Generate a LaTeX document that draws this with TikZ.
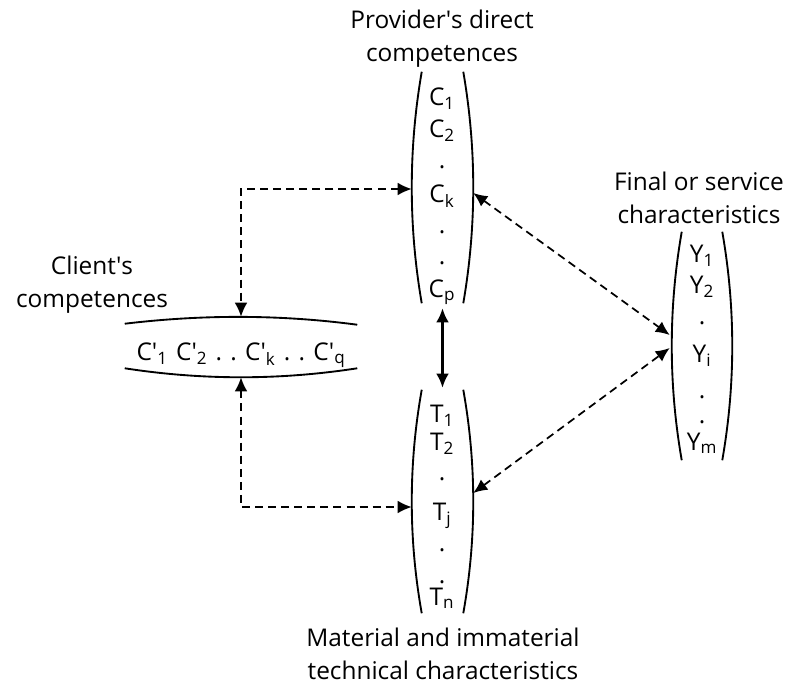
\documentclass[tikz,border=0pt]{standalone}
\usepackage{fontspec}
\setmainfont{Open Sans}
\usetikzlibrary{calc,arrows.meta}

\newcommand\q{\textquotesingle}
\newcommand\lo[1]{\textsubscript{#1}}
\newcommand\gap{\hspace{0.34em}}

% curved brackets on the left and right side of a column node
\newcommand\colbrackets[1]{%
  \draw[brk] ($(#1.north west)+(10,0)$)
    .. controls ($(#1.north west)!.333!(#1.south west)+(-3.3,0)$)
    and ($(#1.north west)!.667!(#1.south west)+(-3.3,0)$)
    .. ($(#1.south west)+(10,0)$);
  \draw[brk] ($(#1.north east)+(-10,0)$)
    .. controls ($(#1.north east)!.333!(#1.south east)+(3.3,0)$)
    and ($(#1.north east)!.667!(#1.south east)+(3.3,0)$)
    .. ($(#1.south east)+(-10,0)$);}

% curved brackets above and below a row node
\newcommand\rowbrackets[1]{%
  \draw[brk] ($(#1.north west)+(0,7)$)
    .. controls ($(#1.north west)!.333!(#1.north east)+(0,-2.3)$)
    and ($(#1.north west)!.667!(#1.north east)+(0,-2.3)$)
    .. ($(#1.north east)+(0,8)$);
  \draw[brk] ($(#1.south west)+(0,-9)$)
    .. controls ($(#1.south west)!.333!(#1.south east)+(0,3)$)
    and ($(#1.south west)!.667!(#1.south east)+(0,3)$)
    .. ($(#1.south east)+(0,-9)$);}

\begin{document}
\begin{tikzpicture}[x=0.75pt,y=-0.75pt,
  every node/.style={inner sep=0pt, font=\fontsize{18.3}{24.75}\selectfont},
  lbl/.style={align=center},
  item/.style={anchor=base},
  box/.style={draw=none, rectangle},
  brk/.style={line width=1.4pt},
  dar/.style={line width=1.3pt, dash pattern=on 6pt off 3.8pt, {Latex[length=10.5pt,width=9.5pt]}-{Latex[length=10.5pt,width=9.5pt]}},
  sar/.style={line width=1.7pt, {Latex[length=10.5pt,width=9.5pt]}-{Latex[length=10.5pt,width=9.5pt]}}]

\fill[white] (0,0) rectangle (795,685);
\useasboundingbox (0,0) rectangle (795,685);

% column and row frames
\node[box, minimum width=45.75pt, minimum height=173.25pt] (colC) at (442.5,187.5) {};
\node[box, minimum width=45.75pt, minimum height=167.25pt] (colT) at (442.5,501.5) {};
\node[box, minimum width=45pt, minimum height=171pt] (colY) at (702,346) {};
\node[box, minimum width=174pt, minimum height=45pt] (rowCp) at (241,347) {};

\colbrackets{colC}
\colbrackets{colT}
\colbrackets{colY}
\rowbrackets{rowCp}

% titles
\node[lbl] (tC) at (442,38.5) {Provider\q s direct\\competences};
\node[lbl] (tCl) at (92,285) {Client\q s\\competences};
\node[lbl] (tY) at (699,197.5) {Final or service\\characteristics};
\node[lbl] (tT) at (443,654) {Material and immaterial\\technical characteristics};

% provider's competences
\node[item] (c1) at (442,105) {C\lo{1}};
\node[item] (c2) at (442,137) {C\lo{2}};
\node[item] (cd1) at (442,168.5) {.};
\node[item] (ck) at (442,202) {C\lo{k}};
\node[item] (cd2) at (442,233.5) {.};
\node[item] (cd3) at (442,264.5) {.};
\node[item] (cp) at (442,297) {C\lo{p}};

% technical characteristics
\node[item] (t1) at (442,422) {T\lo{1}};
\node[item] (t2) at (442,450) {T\lo{2}};
\node[item] (td1) at (442,480) {.};
\node[item] (tj) at (442,520) {T\lo{j}};
\node[item] (td2) at (442,551) {.};
\node[item] (td3) at (442,583) {.};
\node[item] (tn) at (442,605) {T\lo{n}};

% service characteristics
\node[item] (y1) at (702,262) {Y\lo{1}};
\node[item] (y2) at (702,293) {Y\lo{2}};
\node[item] (yd1) at (702,324.5) {.};
\node[item] (yi) at (702,362) {Y\lo{i}};
\node[item] (yd2) at (702,398.5) {.};
\node[item] (yd3) at (702,423.5) {.};
\node[item] (ym) at (702,450) {Y\lo{m}};

% client's competences
\node[item] (cc) at (241,360) {C\q\lo{1}\gap C\q\lo{2}\gap.\gap.\gap C\q\lo{k}\gap.\gap.\gap C\q\lo{q}};

% connector end points on the frames
\coordinate (cL) at ($(colC.west)+(0,1.5)$);
\coordinate (cR) at ($(colC.east)+(0,5.5)$);
\coordinate (tL) at ($(colT.west)+(0,5.5)$);
\coordinate (tR) at ($(colT.east)+(0,-8.5)$);
\coordinate (yU) at ($(colY.west)+(-2,-11)$);
\coordinate (yD) at ($(colY.west)+(-2,2)$);
\coordinate (cB) at ($(colC.south)+(0,5)$);
\coordinate (tT) at ($(colT.north)+(0,-2)$);

% connectors
\draw[dar] (cL) -| (rowCp.north);
\draw[dar] (rowCp.south) |- (tL);
\draw[dar] (cR) -- (yU);
\draw[dar] (tR) -- (yD);
\draw[sar] (cB) -- (tT);
\end{tikzpicture}
\end{document}
